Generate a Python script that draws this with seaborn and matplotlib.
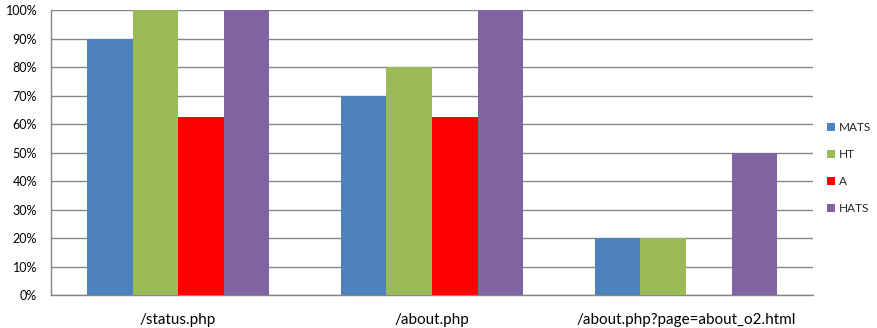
import matplotlib
matplotlib.use("Agg")
import matplotlib.pyplot as plt
from matplotlib.patches import Patch
from matplotlib.ticker import PercentFormatter
import seaborn as sns
import pandas as pd

pages = ["/status.php", "/about.php", "/about.php?page=about_o2.html"]
methods = ["MATS", "HT", "A", "HATS"]
mats = [90, 70, 20]
ht = [100, 80, 20]
a = [62.5, 62.5, 0]
hats = [100, 100, 50]
colors = ["#4F81BD", "#9BBB59", "#FF0000", "#8064A2"]

rows = []
for method, vals in zip(methods, [mats, ht, a, hats]):
    for page, v in zip(pages, vals):
        rows.append({"page": page, "method": method, "value": v})
df = pd.DataFrame(rows)

sns.set_style("white")
plt.rcParams["font.family"] = ["Lato", "DejaVu Sans"]

fig = plt.figure(figsize=(8.77, 3.28), dpi=100)
ax = fig.add_axes([0.0582, 0.1006, 0.927 - 0.0582, 0.9695 - 0.1006])

sns.barplot(data=df, x="page", y="value", hue="method", order=pages,
            hue_order=methods, palette=colors, width=0.717, saturation=1,
            edgecolor="none", linewidth=0, errorbar=None, ax=ax, zorder=3)

ax.set_ylim(0, 100)
ax.set_yticks(range(0, 101, 10))
ax.yaxis.set_major_formatter(PercentFormatter(decimals=0))
ax.grid(axis="y", color="#868686", linewidth=1, zorder=0)
ax.set_axisbelow(True)
for side in ["top", "right"]:
    ax.spines[side].set_visible(False)
for side in ["left", "bottom"]:
    ax.spines[side].set_color("#868686")
    ax.spines[side].set_linewidth(1)
ax.set_xlabel("")
ax.set_ylabel("")
ax.tick_params(axis="y", labelsize=9, length=0, pad=10, colors="#000000")
ax.tick_params(axis="x", labelsize=11, length=0, pad=13, colors="#000000")
ax.get_legend().remove()

handles = [Patch(facecolor=c, edgecolor="none") for c in colors]
fig.legend(handles, methods, loc="upper left", bbox_to_anchor=(0.936, 0.645),
           frameon=False, fontsize=8.5, handlelength=0.7, handleheight=0.7,
           handletextpad=0.3, labelspacing=1.35, borderpad=0)

fig.savefig("out.png", dpi=100)
